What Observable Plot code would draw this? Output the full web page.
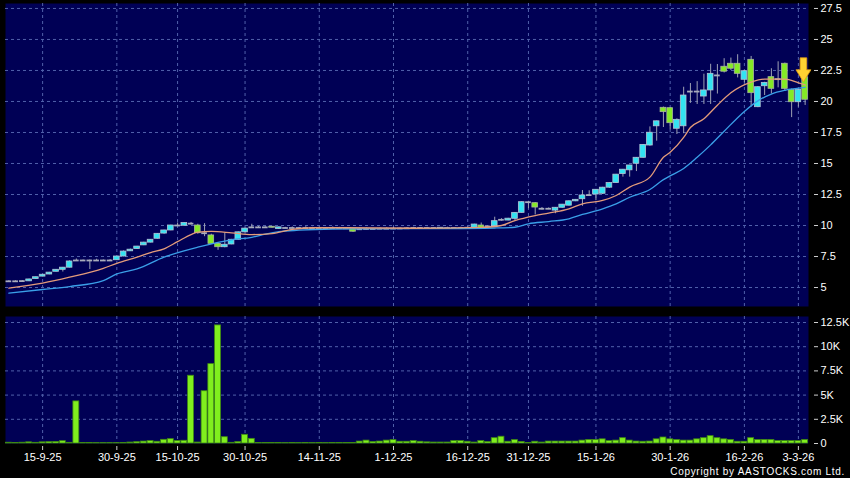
<!DOCTYPE html>
<html><head><meta charset="utf-8">
<script src="https://cdn.jsdelivr.net/npm/d3@7"></script>
<script src="https://cdn.jsdelivr.net/npm/@observablehq/plot@0.6"></script>
<style>
html,body{margin:0;padding:0;background:#000;}
#chart{position:relative;width:850px;height:478px;background:#000;overflow:hidden;font-family:"Liberation Sans",Arial,sans-serif;}
#chart svg{display:block;}
#copy{position:absolute;right:5px;top:467px;color:#fff;font-size:10px;letter-spacing:0.7px;line-height:10px;white-space:nowrap;}
</style></head><body><div id="chart"></div>
<script>
// trading days (HK)
const dates = [
"2025-09-08","2025-09-09","2025-09-10","2025-09-11","2025-09-12","2025-09-15","2025-09-16","2025-09-17","2025-09-18","2025-09-19",
"2025-09-22","2025-09-23","2025-09-24","2025-09-25","2025-09-26","2025-09-29","2025-09-30","2025-10-02","2025-10-03","2025-10-06",
"2025-10-08","2025-10-09","2025-10-10","2025-10-13","2025-10-14","2025-10-15","2025-10-16","2025-10-17","2025-10-20","2025-10-21",
"2025-10-22","2025-10-23","2025-10-24","2025-10-27","2025-10-28","2025-10-30","2025-10-31","2025-11-03","2025-11-04","2025-11-05",
"2025-11-06","2025-11-07","2025-11-10","2025-11-11","2025-11-12","2025-11-13","2025-11-14","2025-11-17","2025-11-18","2025-11-19",
"2025-11-20","2025-11-21","2025-11-24","2025-11-25","2025-11-26","2025-11-27","2025-11-28","2025-12-01","2025-12-02","2025-12-03",
"2025-12-04","2025-12-05","2025-12-08","2025-12-09","2025-12-10","2025-12-11","2025-12-12","2025-12-15","2025-12-16","2025-12-17",
"2025-12-18","2025-12-19","2025-12-22","2025-12-23","2025-12-24","2025-12-29","2025-12-30","2025-12-31","2026-01-02","2026-01-05",
"2026-01-06","2026-01-07","2026-01-08","2026-01-09","2026-01-12","2026-01-13","2026-01-14","2026-01-15","2026-01-16","2026-01-19",
"2026-01-20","2026-01-21","2026-01-22","2026-01-23","2026-01-26","2026-01-27","2026-01-28","2026-01-29","2026-01-30","2026-02-02",
"2026-02-03","2026-02-04","2026-02-05","2026-02-06","2026-02-09","2026-02-10","2026-02-11","2026-02-12","2026-02-13","2026-02-16",
"2026-02-20","2026-02-23","2026-02-24","2026-02-25","2026-02-26","2026-02-27","2026-03-02","2026-03-03","2026-03-04"];

const open = [
5.5,5.5,5.52,5.5,5.68,5.88,6.05,6.27,6.43,6.6,
7.18,7.18,7.18,7.18,7.18,7.18,7.2,7.5,7.92,8.1,
8.4,8.62,8.93,9.35,9.6,10.0,9.98,10.15,10.0,9.38,
9.2,8.52,8.25,8.47,8.85,9.45,9.85,9.85,9.85,9.9,
9.72,9.8,9.8,9.8,9.8,9.8,9.8,9.8,9.8,9.8,
9.78,9.72,9.7,9.72,9.72,9.74,9.74,9.75,9.76,9.78,
9.8,9.8,9.8,9.8,9.74,9.8,9.8,9.8,9.82,9.82,
10.0,9.92,9.95,10.46,10.4,10.54,11.02,11.88,11.8,11.35,
11.35,11.2,11.43,11.6,11.95,12.12,12.45,12.5,12.56,13.05,
13.42,14.15,14.45,14.98,15.46,16.45,18.0,19.49,19.46,17.8,
18.0,20.8,20.8,20.4,20.89,22.1,22.8,23.04,23.04,21.75,
23.36,19.54,21.23,21.96,21.8,23.04,20.94,19.94,21.96];
const high = [
5.55,5.55,5.56,5.68,5.85,6.05,6.22,6.45,6.62,7.15,
7.3,7.22,7.22,7.28,7.22,7.25,7.52,7.95,8.1,8.32,
8.65,8.87,9.35,9.62,10.02,10.2,10.22,10.25,10.1,10.15,
9.3,8.55,9.4,8.88,9.48,9.78,10.1,9.92,9.9,9.92,
9.88,9.85,9.88,9.85,9.9,9.85,9.86,9.84,9.88,9.85,
9.82,9.75,9.78,9.8,9.76,9.8,9.82,9.85,9.8,9.84,
9.86,9.84,9.85,9.84,9.84,9.86,9.84,9.86,9.88,10.1,
10.2,9.98,10.67,10.55,10.58,11.05,11.92,11.95,11.85,11.45,
11.42,11.45,11.7,11.98,12.1,12.82,12.8,12.9,13.08,13.45,
14.12,14.52,14.86,15.48,16.52,17.95,18.42,19.55,19.5,18.6,
21.15,21.45,21.6,22.2,23.0,22.98,23.45,23.5,23.77,22.5,
23.63,21.2,21.55,22.64,23.2,23.1,21.0,20.98,22.0];
const low = [
5.45,5.45,5.48,5.48,5.66,5.86,6.03,6.25,6.25,6.58,
7.1,7.12,6.45,7.12,7.15,7.1,7.18,7.48,7.9,8.08,
8.38,8.6,8.9,9.3,9.58,9.95,9.95,10.05,9.3,9.1,
8.5,8.0,8.2,8.45,8.82,9.42,9.8,9.8,9.8,9.78,
9.7,9.75,9.75,9.72,9.75,9.76,9.75,9.74,9.76,9.75,
9.72,9.45,9.62,9.65,9.66,9.68,9.7,9.7,9.7,9.72,
9.74,9.75,9.76,9.74,9.72,9.76,9.75,9.76,9.78,9.8,
9.78,9.88,9.9,10.35,10.38,10.4,11.0,11.35,10.85,11.25,
11.28,10.95,11.4,11.58,11.92,11.55,12.4,12.0,12.5,13.0,
13.4,13.9,13.9,14.35,15.44,16.4,16.8,17.9,17.72,17.34,
17.4,19.85,19.76,19.76,19.76,20.6,22.3,22.5,21.9,21.5,
19.54,19.5,20.48,20.6,21.1,20.8,18.7,19.54,19.68];
const close = [
5.5,5.5,5.52,5.65,5.83,6.03,6.2,6.43,6.6,7.1,
7.18,7.18,7.18,7.18,7.18,7.18,7.5,7.9,8.05,8.3,
8.62,8.85,9.33,9.6,10.0,10.0,10.2,10.15,9.38,9.38,
8.52,8.25,8.45,8.85,9.45,9.75,9.85,9.85,9.85,9.82,
9.85,9.8,9.8,9.8,9.8,9.8,9.8,9.8,9.8,9.8,
9.78,9.5,9.7,9.72,9.72,9.74,9.74,9.75,9.76,9.78,
9.8,9.8,9.8,9.8,9.82,9.8,9.8,9.8,9.82,10.08,
9.8,9.92,10.35,10.46,10.55,11.02,11.88,11.88,11.45,11.35,
11.35,11.43,11.68,11.95,12.07,12.42,12.45,12.88,13.05,13.42,
14.1,14.5,14.84,15.46,16.5,17.48,18.4,19.14,18.25,18.52,
20.48,20.8,20.8,20.89,22.23,22.1,22.4,22.64,22.23,22.44,
20.67,21.15,21.5,21.02,21.8,21.02,19.94,20.94,20.14];
// volume in thousands
const volume = [
0.08,0.05,0.08,0.12,0.07,0.12,0.14,0.16,0.24,0.07,
4.35,0.05,0.05,0.04,0.04,0.04,0.04,0.05,0.1,0.14,
0.2,0.25,0.18,0.38,0.45,0.25,0.28,7.0,0.1,5.4,
8.2,12.2,0.65,0.07,0.15,0.9,0.48,0.06,0.05,0.05,
0.06,0.04,0.05,0.04,0.05,0.04,0.05,0.04,0.06,0.05,
0.05,0.06,0.2,0.3,0.15,0.2,0.3,0.35,0.18,0.18,
0.25,0.18,0.12,0.1,0.1,0.1,0.25,0.25,0.18,0.1,
0.25,0.15,0.55,0.7,0.18,0.35,0.16,0.05,0.18,0.1,
0.2,0.2,0.2,0.2,0.2,0.3,0.36,0.36,0.43,0.25,
0.3,0.55,0.3,0.2,0.18,0.2,0.43,0.62,0.43,0.36,
0.3,0.3,0.43,0.55,0.76,0.55,0.43,0.36,0.18,0.18,
0.55,0.36,0.36,0.36,0.25,0.25,0.25,0.25,0.36];

// moving averages (bar index, value)
const maFastIdx = [0,5,9,14,16,19,21,23,25,27,28,30,33,36,39,42,45,50,60,70,73,75,78,80,83,85,88,90,92,95,97,98,100,101,103,105,107,110,112,115,117,118];
const maFastVal = [4.95,5.35,5.83,6.55,6.95,7.45,7.82,8.12,8.7,9.27,9.46,9.52,9.41,9.27,9.35,9.68,9.82,9.82,9.78,9.85,10.0,10.4,10.8,11.0,11.35,11.75,12.02,12.42,13.1,13.9,15.5,15.9,17.1,17.9,18.6,19.7,20.7,21.56,21.8,21.8,21.5,21.33];
const maSlowIdx = [0,5,9,14,16,19,23,28,33,36,38,40,43,48,55,65,72,75,77,80,83,85,88,90,92,95,97,98,100,102,104,106,109,111,113,115,118];
const maSlowVal = [4.55,4.84,5.08,5.56,6.1,6.5,7.45,8.25,8.85,9.05,9.3,9.5,9.62,9.72,9.75,9.76,9.8,9.86,10.14,10.32,10.54,10.89,11.35,11.75,12.28,12.9,13.7,14.0,14.6,15.5,16.5,17.6,19.2,20.05,20.6,20.9,21.13];

// signal marker
const signalIdx = [117.75];
const signalPrice = [22.55];

// axes
const priceTicks = [5,7.5,10,12.5,15,17.5,20,22.5,25,27.5];
const volTicks = [0,2.5,5,7.5,10,12.5];
const tickDates = ["2025-09-15","2025-09-30","2025-10-15","2025-10-30","2025-11-14","2025-12-01","2025-12-16","2025-12-31","2026-01-15","2026-01-30","2026-02-16","2026-03-03"];
const tickLabels = ["15-9-25","30-9-25","15-10-25","30-10-25","14-11-25","1-12-25","16-12-25","31-12-25","15-1-26","30-1-26","16-2-26","3-3-26"];

const rows = dates.map((d, i) => ({i, d, o: open[i], h: high[i], l: low[i], c: close[i], v: volume[i]}));
const up = rows.filter(r => r.c > r.o);
const down = rows.filter(r => r.c < r.o);
const flat = rows.filter(r => r.c === r.o);
const tickIdx = tickDates.map(d => dates.indexOf(d));
const labelOf = new Map(tickIdx.map((i, k) => [i, tickLabels[k]]));
const maFast = maFastIdx.map((i, k) => ({i, v: maFastVal[k]}));
const maSlow = maSlowIdx.map((i, k) => ({i, v: maSlowVal[k]}));
const signals = signalIdx.map((i, k) => ({i, v: signalPrice[k]}));

const NAVY = "#000055";
const GRID = "#5060aa";
const xDomain = [-0.5, dates.length - 0.5];
const hw = 0.42;
const font = "Liberation Sans, Arial, sans-serif";

const arrowSymbol = {
  draw(ctx, size) {
    const r = Math.sqrt(size / Math.PI);
    const s = r / 12;
    ctx.moveTo(-3.3 * s, -12 * s);
    ctx.lineTo(3.3 * s, -12 * s);
    ctx.lineTo(3.3 * s, 0);
    ctx.lineTo(7.5 * s, 0);
    ctx.lineTo(0, 12 * s);
    ctx.lineTo(-7.5 * s, 0);
    ctx.lineTo(-3.3 * s, 0);
    ctx.closePath();
  }
};

const main = Plot.plot({
  width: 850, height: 310,
  marginLeft: 5, marginRight: 42, marginTop: 3, marginBottom: 4,
  style: {background: "#000", color: "#fff", fontFamily: font, fontSize: "11px"},
  x: {type: "linear", domain: xDomain, axis: null},
  y: {type: "linear", domain: [3.47, 27.9], axis: null},
  marks: [
    Plot.frame({fill: NAVY, stroke: null}),
    Plot.gridY({ticks: priceTicks, stroke: GRID, strokeOpacity: 1, strokeDasharray: "3,3"}),
    Plot.gridX({ticks: tickIdx, stroke: GRID, strokeOpacity: 1, strokeDasharray: "3,3"}),
    Plot.ruleX(rows, {x: "i", y1: "l", y2: "h", stroke: "#9ea2b4", strokeWidth: 1}),
    Plot.rect(up, {x1: r => r.i - hw, x2: r => r.i + hw, y1: "o", y2: "c", fill: "#33e3f2", stroke: "#b4c4d4", strokeWidth: 0.8}),
    Plot.rect(down, {x1: r => r.i - hw, x2: r => r.i + hw, y1: "o", y2: "c", fill: "#84ea26", stroke: "#a8b898", strokeWidth: 0.8}),
    Plot.ruleY(flat, {y: "c", x1: r => r.i - hw, x2: r => r.i + hw, stroke: "#a8acbc", strokeWidth: 1.8}),
    Plot.line(maSlow, {x: "i", y: "v", stroke: "#3a9fe8", strokeWidth: 1.3, curve: "monotone-x"}),
    Plot.line(maFast, {x: "i", y: "v", stroke: "#e39b7a", strokeWidth: 1.3, curve: "monotone-x"}),
    Plot.dot(signals, {x: "i", y: "v", r: 12, symbol: arrowSymbol, fill: "#ffd232", stroke: "#e8a010", strokeWidth: 0.8}),
    Plot.axisY({anchor: "right", label: null, ticks: priceTicks, tickFormat: d => String(d), tickSize: 4, tickPadding: 3, dx: 5, stroke: "#d0d0d0", fill: "#fff", fontSize: 11})
  ]
});

const vol = Plot.plot({
  width: 850, height: 168,
  marginLeft: 5, marginRight: 42, marginTop: 6, marginBottom: 35,
  style: {background: "#000", color: "#fff", fontFamily: font, fontSize: "11px"},
  x: {type: "linear", domain: xDomain, axis: null},
  y: {type: "linear", domain: [0, 13.12], axis: null},
  marks: [
    Plot.frame({fill: NAVY, stroke: null}),
    Plot.gridY({ticks: volTicks.filter(t => t > 0), stroke: GRID, strokeOpacity: 1, strokeDasharray: "3,3"}),
    Plot.gridX({ticks: tickIdx, stroke: GRID, strokeOpacity: 1, strokeDasharray: "3,3"}),
    Plot.rect(rows, {x1: r => r.i - 0.44, x2: r => r.i + 0.44, y1: 0, y2: "v", fill: "#80ee1e", stroke: "#3f8a12", strokeWidth: 0.8}),
    Plot.axisY({anchor: "right", label: null, ticks: volTicks, tickFormat: d => d === 0 ? "0" : d + "K", tickSize: 4, tickPadding: 3, dx: 5, stroke: "#d0d0d0", fill: "#fff", fontSize: 11}),
    Plot.axisX({anchor: "bottom", label: null, ticks: tickIdx, tickFormat: i => labelOf.get(i), tickSize: 4, tickPadding: 3, dy: 3, stroke: "#d0d0d0", fill: "#fff", fontSize: 11})
  ]
});

const root = document.getElementById("chart");
root.appendChild(main);
root.appendChild(vol);
const copy = document.createElement("div");
copy.id = "copy";
copy.textContent = "Copyright by AASTOCKS.com Ltd.";
root.appendChild(copy);
</script>
</body></html>
